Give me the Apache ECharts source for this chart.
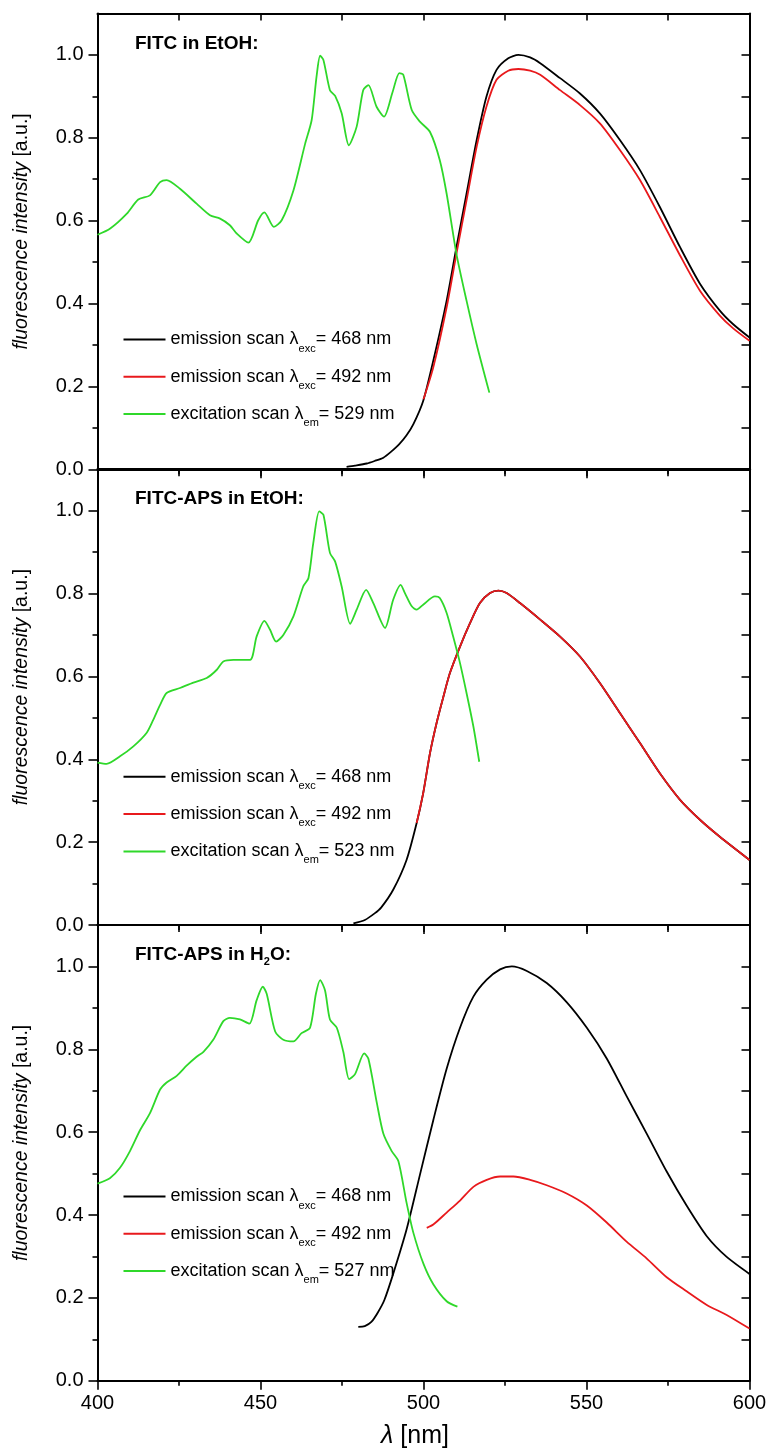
<!DOCTYPE html>
<html><head><meta charset="utf-8">
<script src="https://cdn.jsdelivr.net/npm/echarts@6/dist/echarts.min.js"></script>
<style>html,body{margin:0;padding:0;background:#fff}#chart{width:770px;height:1451px}</style>
</head><body><div id="chart"></div>
<script>
// ---------- tick labels ----------
const xRange = [400, 600];
const xMajorInterval = 50;
const xTopTickInterval = 25;
const yRange = [0, 1.1];
const yLabelTicks = [0, 0.2, 0.4, 0.6, 0.8, 1.0];
const yMinorTicks = [0.1, 0.3, 0.5, 0.7, 0.9];
const yRightTicks = [0.1, 0.2, 0.3, 0.4, 0.5, 0.6, 0.7, 0.8, 0.9, 1.0];

// ---------- panel texts ----------
const panelTitles = ['FITC in EtOH:', 'FITC-APS in EtOH:', 'FITC-APS in H{s|2}O:'];
const excEmission = ['529', '523', '527'];

// ---------- panel 1: FITC in EtOH ----------
const p1_em468_nm  = [476.4, 479, 482.6, 485, 487.7, 490, 492.5, 494.8, 496.9, 499.9, 503, 507.1, 510.1, 513.2, 516.3, 519.3, 522.4, 526, 529.1, 532.7, 535.8, 541.9, 548, 554.1, 560.3, 566.4, 572.5, 578.7, 584.8, 590.9, 595, 600];
const p1_em468_val = [0.006, 0.009, 0.014, 0.02, 0.028, 0.042, 0.06, 0.082, 0.109, 0.165, 0.262, 0.407, 0.536, 0.665, 0.794, 0.899, 0.964, 0.992, 1.0, 0.994, 0.98, 0.944, 0.907, 0.859, 0.794, 0.722, 0.633, 0.536, 0.448, 0.383, 0.35, 0.318];
const p1_em492_nm  = [500, 503, 507.1, 510.1, 513.2, 516.3, 519.3, 522.4, 526, 529.1, 532.7, 535.8, 541.9, 548, 554.1, 560.3, 566.4, 572.5, 578.7, 584.8, 590.9, 595, 600];
const p1_em492_val = [0.169, 0.246, 0.391, 0.52, 0.649, 0.778, 0.875, 0.94, 0.962, 0.966, 0.962, 0.952, 0.915, 0.879, 0.835, 0.77, 0.698, 0.609, 0.516, 0.431, 0.371, 0.34, 0.31];
const p1_ex529_nm  = [400, 403.9, 409, 412.5, 416.1, 419.2, 421.2, 425.3, 430.4, 434.5, 437.6, 440.6, 442.7, 446.3, 449.3, 451.2, 454.1, 456.5, 460.1, 463.7, 465.7, 467.2, 468.3, 469.3, 471.3, 472.9, 474.9, 477.1, 479.5, 481.5, 483.1, 485.6, 487.9, 490.5, 492.6, 493.8, 496.4, 498.9, 502, 505, 507.1, 510.1, 513.2, 516.3, 520.2];
const p1_ex529_val = [0.566, 0.581, 0.617, 0.651, 0.661, 0.693, 0.698, 0.677, 0.641, 0.613, 0.605, 0.589, 0.569, 0.547, 0.601, 0.62, 0.585, 0.601, 0.673, 0.786, 0.843, 0.948, 0.998, 0.988, 0.915, 0.901, 0.859, 0.782, 0.827, 0.915, 0.927, 0.875, 0.851, 0.91, 0.956, 0.952, 0.867, 0.839, 0.814, 0.746, 0.665, 0.52, 0.407, 0.302, 0.185];

// ---------- panel 2: FITC-APS in EtOH ----------
const p2_em468_nm  = [478.5, 482, 485, 487, 490.7, 494.8, 497.9, 499.9, 502, 504, 506.1, 508.1, 511.2, 514.3, 517.3, 520.4, 523, 525.5, 529.6, 535.8, 541.9, 548, 554.1, 560.3, 566.4, 572.5, 578.7, 584.8, 590.9, 600];
const p2_em468_val = [0.004, 0.012, 0.028, 0.042, 0.085, 0.157, 0.246, 0.318, 0.415, 0.487, 0.551, 0.608, 0.672, 0.729, 0.777, 0.801, 0.807, 0.801, 0.777, 0.737, 0.696, 0.648, 0.584, 0.511, 0.439, 0.366, 0.302, 0.254, 0.213, 0.157];
const p2_em492_nm  = [497.9, 499.9, 502, 504, 506.1, 508.1, 511.2, 514.3, 517.3, 520.4, 523, 525.5, 529.6, 535.8, 541.9, 548, 554.1, 560.3, 566.4, 572.5, 578.7, 584.8, 590.9, 600];
const p2_em492_val = [0.246, 0.318, 0.415, 0.487, 0.551, 0.608, 0.672, 0.729, 0.777, 0.801, 0.807, 0.801, 0.777, 0.737, 0.696, 0.648, 0.584, 0.511, 0.439, 0.366, 0.302, 0.254, 0.213, 0.157];
const p2_ex523_nm  = [400, 402.8, 406.9, 411, 415.1, 417.1, 419.2, 421.2, 425.3, 429.4, 433.5, 436.6, 438.6, 441.7, 446.8, 448.8, 451.2, 452.9, 454.8, 457, 460.1, 463.1, 464.7, 466.2, 468, 469.3, 471.3, 472.9, 474.9, 477.5, 479.5, 482.4, 484.6, 488.2, 490.7, 493, 494.3, 496.4, 497.9, 499.9, 503.5, 505, 507.1, 509.1, 511.2, 513.2, 515.3, 517.1];
const p2_ex523_val = [0.392, 0.389, 0.407, 0.431, 0.464, 0.495, 0.531, 0.56, 0.572, 0.585, 0.596, 0.616, 0.636, 0.64, 0.64, 0.696, 0.734, 0.713, 0.684, 0.7, 0.745, 0.817, 0.837, 0.922, 0.998, 0.99, 0.898, 0.877, 0.817, 0.727, 0.761, 0.809, 0.777, 0.717, 0.785, 0.821, 0.801, 0.769, 0.761, 0.773, 0.793, 0.789, 0.753, 0.696, 0.632, 0.56, 0.479, 0.394];

// ---------- panel 3: FITC-APS in H2O ----------
const p3_em468_nm  = [480, 482, 484, 486, 488, 490.7, 494.8, 498.9, 503, 507.1, 511.2, 515.3, 519.4, 523.5, 527.1, 531.7, 537.8, 543.9, 550.1, 556.2, 562.3, 568.5, 574.6, 580.7, 586.9, 593, 600];
const p3_em468_val = [0.13, 0.132, 0.142, 0.165, 0.195, 0.258, 0.365, 0.497, 0.629, 0.753, 0.852, 0.927, 0.968, 0.993, 1.0, 0.989, 0.96, 0.914, 0.852, 0.778, 0.687, 0.596, 0.505, 0.423, 0.349, 0.299, 0.258];
const p3_em492_nm  = [501, 503, 507.1, 511.2, 515.3, 519.4, 523.5, 527.6, 532.7, 537.8, 543.9, 550.1, 556.2, 562.3, 568.5, 574.6, 580.7, 586.9, 593, 600];
const p3_em492_val = [0.369, 0.377, 0.406, 0.435, 0.468, 0.485, 0.493, 0.493, 0.485, 0.472, 0.452, 0.423, 0.382, 0.336, 0.295, 0.25, 0.216, 0.183, 0.159, 0.126];
const p3_ex527_nm  = [400, 403.8, 406.9, 410, 413, 416.1, 419.2, 421.2, 424.3, 427.4, 430.4, 432.5, 435.5, 438.6, 440.6, 443.7, 446.6, 448.8, 450.7, 451.9, 454.5, 457, 460.1, 462.6, 465.2, 467, 468.3, 469.8, 471.3, 473.4, 475.4, 477.2, 479, 481.8, 483.1, 485.7, 487.7, 490.2, 492.3, 494.8, 496.9, 500, 503, 507.1, 510.4];
const p3_ex527_val = [0.476, 0.489, 0.514, 0.555, 0.604, 0.646, 0.703, 0.72, 0.736, 0.761, 0.782, 0.794, 0.823, 0.868, 0.876, 0.872, 0.862, 0.918, 0.951, 0.934, 0.843, 0.823, 0.819, 0.839, 0.852, 0.934, 0.967, 0.942, 0.872, 0.852, 0.794, 0.728, 0.74, 0.79, 0.777, 0.67, 0.596, 0.555, 0.53, 0.43, 0.357, 0.282, 0.233, 0.192, 0.179];

// ---------- layout ----------
const FONT = 'Liberation Sans, Arial, sans-serif';
const COLORS = { em468: '#000000', em492: '#e8191c', ex: '#2fd82a' };
const gridLeft = 97.5, gridWidth = 652, gridHeight = 455.8;
const gridTops = [13.5, 469.2, 925];
const legendTops = [325, 762.3, 1182];

const zip = (a, b) => a.map((v, i) => [v, b[i]]);
const panels = [
  { em468: zip(p1_em468_nm, p1_em468_val), em492: zip(p1_em492_nm, p1_em492_val), ex: zip(p1_ex529_nm, p1_ex529_val) },
  { em468: zip(p2_em468_nm, p2_em468_val), em492: zip(p2_em492_nm, p2_em492_val), ex: zip(p2_ex523_nm, p2_ex523_val) },
  { em468: zip(p3_em468_nm, p3_em468_val), em492: zip(p3_em492_nm, p3_em492_val), ex: zip(p3_ex527_nm, p3_ex527_val) }
];

const grid = [], xAxis = [], yAxis = [], series = [], legend = [], title = [];
const legendLabels = {};
const axisLineStyle = { color: '#000', width: 2 };
const tickStyle = { color: '#000', width: 1.6 };

panels.forEach((p, i) => {
  grid.push({ left: gridLeft, width: gridWidth, top: gridTops[i], height: gridHeight });
  const last = i === panels.length - 1;
  xAxis.push({
    gridIndex: i, type: 'value', position: 'bottom', min: xRange[0], max: xRange[1], interval: xMajorInterval,
    axisLine: { show: true, onZero: false, lineStyle: axisLineStyle },
    axisTick: { show: true, inside: false, length: 9, lineStyle: tickStyle },
    minorTick: { show: true, splitNumber: 2, length: 5, lineStyle: tickStyle },
    axisLabel: { show: last, fontSize: 20, color: '#000', fontFamily: FONT, margin: 13 },
    splitLine: { show: false }, minorSplitLine: { show: false },
    name: last ? '{it|λ} [nm]' : '', nameLocation: 'middle', nameGap: 43,
    nameTextStyle: { fontSize: 25, color: '#000', fontFamily: FONT, padding: [0, 17, 0, 0],
      rich: { it: { fontStyle: 'italic', fontSize: 25, fontFamily: FONT, color: '#000' } } }
  });
  xAxis.push({
    gridIndex: i, type: 'value', position: 'top', min: xRange[0], max: xRange[1], interval: xTopTickInterval,
    axisLine: { show: true, onZero: false, lineStyle: axisLineStyle },
    axisTick: { show: true, inside: true, length: 7, lineStyle: tickStyle },
    axisLabel: { show: false }, splitLine: { show: false }
  });
  yAxis.push({
    gridIndex: i, type: 'value', position: 'left', min: yRange[0], max: yRange[1],
    axisLine: { show: true, onZero: false, lineStyle: axisLineStyle },
    axisTick: { show: true, inside: false, length: 9, customValues: yLabelTicks, lineStyle: tickStyle },
    axisLabel: { show: true, customValues: yLabelTicks, formatter: v => v.toFixed(1), fontSize: 20, color: '#000', fontFamily: FONT, margin: 14 },
    splitLine: { show: false },
    name: '{it|fluorescence intensity} [a.u.]', nameLocation: 'middle', nameRotate: 90, nameGap: 66,
    nameTextStyle: { fontSize: 19.5, color: '#000', fontFamily: FONT, padding: [0, 0, 0, 20],
      rich: { it: { fontStyle: 'italic', fontSize: 19.5, fontFamily: FONT, color: '#000' } } }
  });
  yAxis.push({
    gridIndex: i, type: 'value', position: 'left', min: yRange[0], max: yRange[1],
    axisLine: { show: false, onZero: false },
    axisTick: { show: true, inside: false, length: 5, customValues: yMinorTicks, lineStyle: tickStyle },
    axisLabel: { show: false }, splitLine: { show: false }
  });
  yAxis.push({
    gridIndex: i, type: 'value', position: 'right', min: yRange[0], max: yRange[1],
    axisLine: { show: true, onZero: false, lineStyle: axisLineStyle },
    axisTick: { show: true, inside: true, length: 8, customValues: yRightTicks, lineStyle: tickStyle },
    axisLabel: { show: false }, splitLine: { show: false }
  });

  const xi = i * 2, yi = i * 3;
  const names = ['p' + (i + 1) + '_em468', 'p' + (i + 1) + '_em492', 'p' + (i + 1) + '_ex'];
  legendLabels[names[0]] = 'emission scan λ{s|exc}= 468 nm';
  legendLabels[names[1]] = 'emission scan λ{s|exc}= 492 nm';
  legendLabels[names[2]] = 'excitation scan λ{s|em}= ' + excEmission[i] + ' nm';
  const mk = (name, data, color) => ({
    name, type: 'line', xAxisIndex: xi, yAxisIndex: yi, data, symbol: 'none', showSymbol: false,
    smooth: 0.25, animation: false,
    lineStyle: { color, width: 1.8 }, itemStyle: { color }
  });
  series.push(mk(names[0], p.em468, COLORS.em468));
  series.push(mk(names[1], p.em492, COLORS.em492));
  series.push(mk(names[2], p.ex, COLORS.ex));

  legend.push({
    data: names.map(n => ({ name: n, icon: 'rect' })), orient: 'vertical', left: 123.5, top: legendTops[i], padding: 0,
    itemWidth: 42, itemHeight: 2, itemGap: 8.3, selectedMode: false,
    formatter: n => legendLabels[n],
    textStyle: { fontSize: 18, color: '#000', fontFamily: FONT, lineHeight: 20,
      rich: { s: { fontSize: 11, fontFamily: FONT, color: '#000', lineHeight: 20, padding: [18, 0, 0, 0] } } }
  });

  title.push({
    text: panelTitles[i], left: 135, top: gridTops[i] + 19, padding: 0,
    textStyle: { fontSize: 19, fontWeight: 'bold', color: '#000', fontFamily: FONT, lineHeight: 22,
      rich: { s: { fontSize: 11, fontWeight: 'bold', fontFamily: FONT, color: '#000', lineHeight: 22, padding: [13, 0, 0, 0] } } }
  });
});

const chart = echarts.init(document.getElementById('chart'), null, { renderer: 'canvas' });
chart.setOption({ backgroundColor: '#fff', animation: false, title, grid, xAxis, yAxis, series, legend });
</script>
</body></html>
